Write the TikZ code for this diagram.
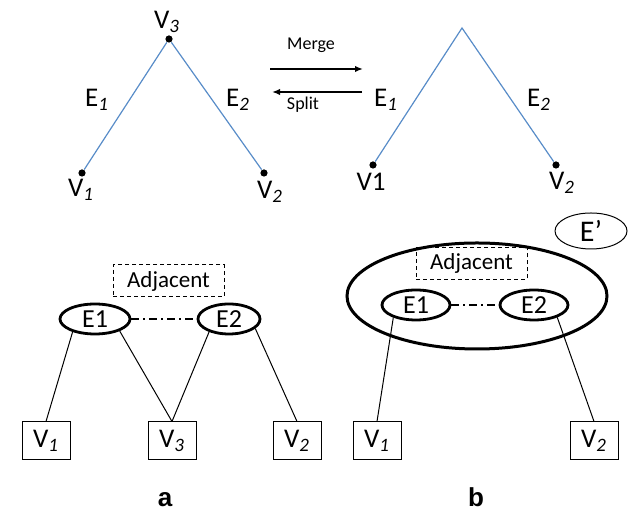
\documentclass[tikz,border=0pt]{standalone}
\usepackage{fontspec}
\setmainfont{Carlito}
\newfontfamily\capfont{Liberation Sans}
\usetikzlibrary{arrows.meta,shapes.geometric}
\definecolor{edgeblue}{RGB}{88,140,200}
\newcommand{\isub}[1]{\textsubscript{\itshape #1}}

\begin{document}
\begin{tikzpicture}[x=0.5pt,y=0.5pt,line width=0.5pt,>={Latex[length=4pt,width=3.2pt]},
  vdot/.style={circle,fill,inner sep=0pt,minimum size=3.6pt},
  hedge/.style={edgeblue,line width=0.6pt},
  lbl/.style={font=\fontsize{13.5}{15}\selectfont,inner sep=0pt},
  opname/.style={font=\fontsize{9}{11}\selectfont,inner sep=0pt},
  enode/.style={ellipse,draw,line width=1.4pt,inner sep=0pt,minimum height=15pt,font=\fontsize{13}{15}\selectfont},
  vbox/.style={rectangle,draw,inner sep=0pt,minimum width=24pt,minimum height=19pt,font=\fontsize{13.5}{15}\selectfont},
  adjbox/.style={rectangle,draw,dashed,dash pattern=on 2pt off 1.5pt,inner sep=0pt,minimum width=55.5pt,minimum height=16pt,font=\fontsize{11.5}{13}\selectfont},
  adjlink/.style={line width=0.8pt,dash pattern=on 4pt off 2pt on 1pt off 2pt},
  panel/.style={font=\capfont\bfseries\fontsize{13}{15}\selectfont,anchor=base,inner sep=0pt}]
  \useasboundingbox (0,0) rectangle (630,512);

  % graph before the merge
  \node[vdot] (v3) at (169,473) {};
  \node[vdot] (v1) at (82,339) {};
  \node[vdot] (v2) at (264,339) {};
  \draw[hedge] (v1) -- (v3) -- (v2);
  \node[lbl] (v3l) at (167,490) {V\isub{3}};
  \node[lbl] (v1l) at (81,322) {V\isub{1}};
  \node[lbl] (v2l) at (270,320) {V\isub{2}};
  \node[lbl] (e1l) at (97,412) {E\isub{1}};
  \node[lbl] (e2l) at (238,412) {E\isub{2}};

  % merge / split arrows
  \coordinate (mg0) at (270,443);
  \coordinate (mg1) at (363,443);
  \coordinate (sp0) at (362,420);
  \coordinate (sp1) at (272,420);
  \draw[->,line width=0.8pt] (mg0) -- (mg1);
  \draw[->,line width=0.8pt] (sp0) -- (sp1);
  \node[opname] (mgl) at (311,467) {Merge};
  \node[opname] (spl) at (303,407) {Split};

  % graph after the merge
  \coordinate (apex) at (462,484);
  \node[vdot] (w1) at (373,347) {};
  \node[vdot] (w2) at (556,347) {};
  \draw[hedge] (w1) -- (apex) -- (w2);
  \node[lbl] (w1l) at (371,330) {V1};
  \node[lbl] (w2l) at (562,329) {V\isub{2}};
  \node[lbl] (f1l) at (386,412) {E\isub{1}};
  \node[lbl] (f2l) at (539,412) {E\isub{2}};

  % (a) two hyperedges sharing V3
  \node[adjbox] (adja) at (168.5,231) {Adjacent};
  \node[enode,minimum width=35pt] (ea1) at (95,193) {E1};
  \node[enode,minimum width=31pt] (ea2) at (229,193) {E2};
  \node[vbox] (va1) at (46,71) {V\isub{1}};
  \node[vbox] (va3) at (172,71) {V\isub{3}};
  \node[vbox] (va2) at (297,71) {V\isub{2}};
  \draw[adjlink] (ea1) -- (ea2);
  \draw (ea1.210) -- (va1.north);
  \draw (ea1.334) -- (va3.north);
  \draw (ea2.213) -- (va3.north);
  \draw (ea2.340) -- (va2.north);
  \node[panel] (capa) at (165,5) {a};

  % (b) merged hyperedge E'
  \node[ellipse,draw,line width=1.5pt,minimum width=130pt,minimum height=53pt] (merged) at (477,216) {};
  \node[ellipse,draw,minimum width=36pt,minimum height=18pt,inner sep=0pt,font=\fontsize{15}{17}\selectfont] (eprime) at (591,281) {E’};
  \node[adjbox] (adjb) at (471.5,248.5) {Adjacent};
  \node[enode,minimum width=34pt] (eb1) at (416,207) {E1};
  \node[enode,minimum width=34pt] (eb2) at (534,207) {E2};
  \node[vbox] (vb1) at (377,71) {V\isub{1}};
  \node[vbox] (vb2) at (594,71) {V\isub{2}};
  \draw[adjlink] (eb1) -- (eb2);
  \draw (eb1.209) -- (vb1.north);
  \draw (eb2.332) -- (vb2.north);
  \node[panel] (capb) at (476,5) {b};
\end{tikzpicture}
\end{document}
